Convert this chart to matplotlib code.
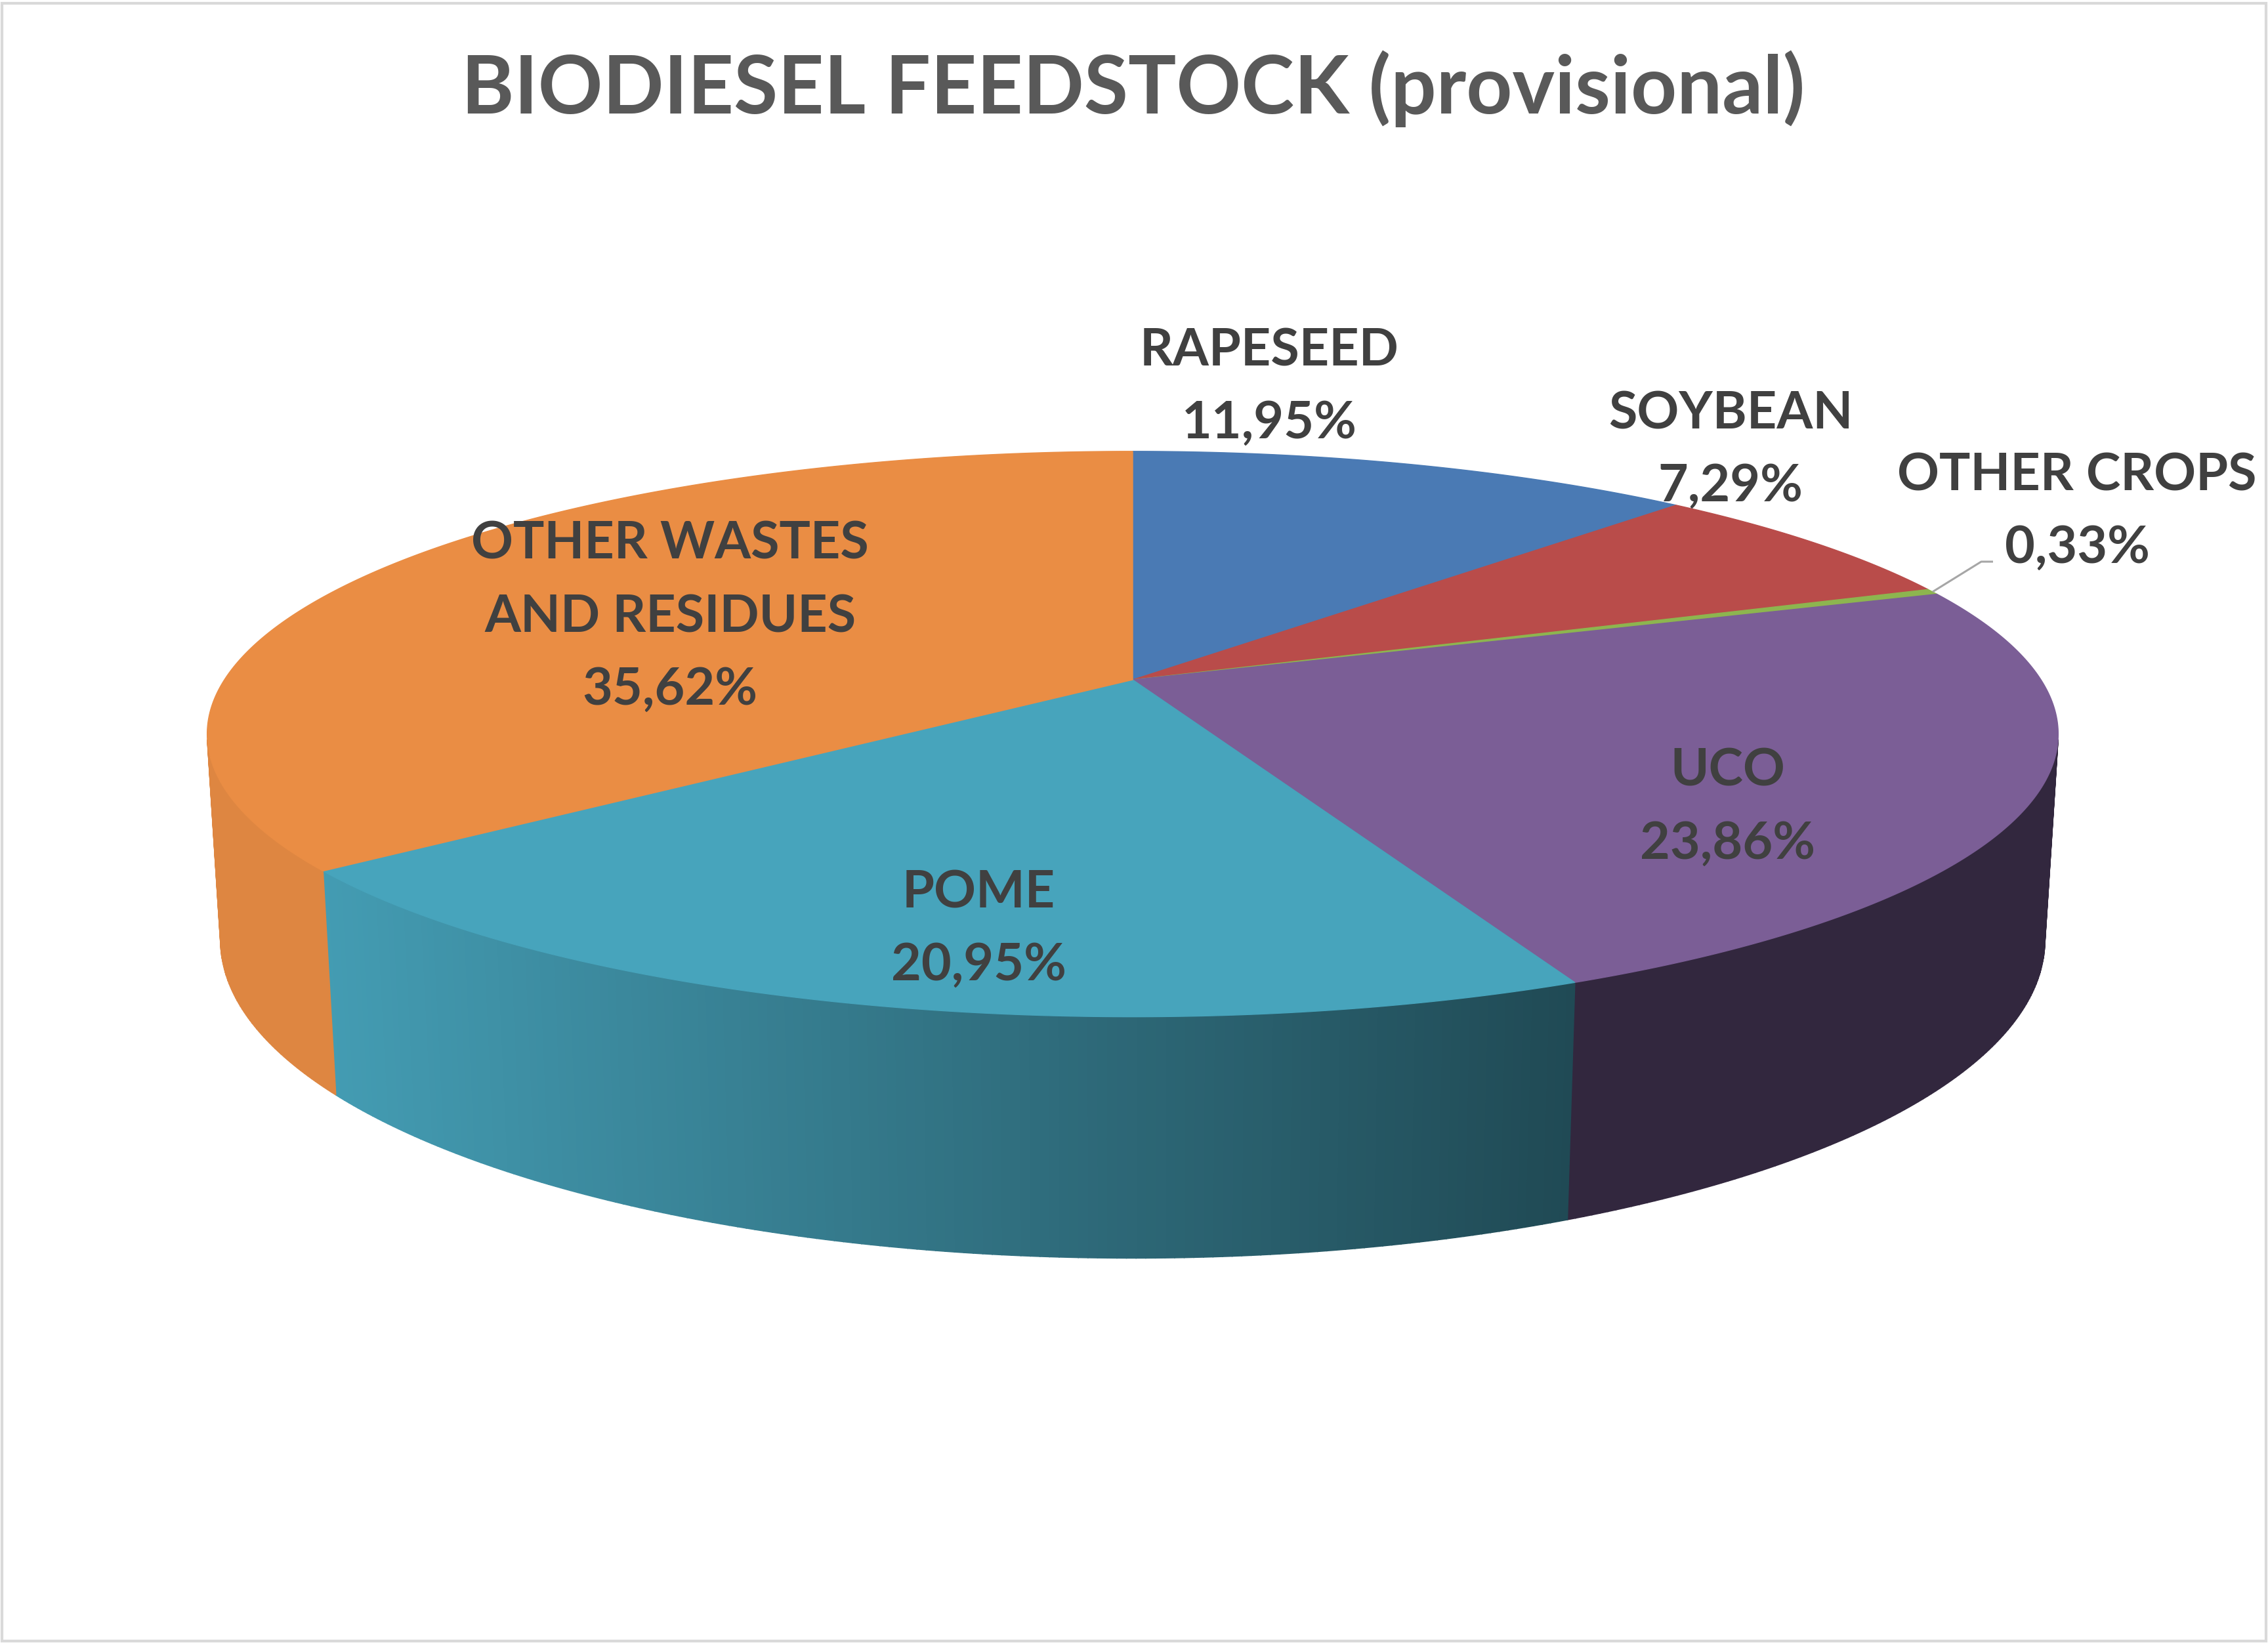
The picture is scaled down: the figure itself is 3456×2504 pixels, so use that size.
import numpy as np
import matplotlib.pyplot as plt
from matplotlib.patches import Polygon, Rectangle

# data
labels = ['RAPESEED', 'SOYBEAN', 'OTHER CROPS', 'UCO', 'POME', 'OTHER WASTES\nAND RESIDUES']
shares = [11.95, 7.29, 0.33, 23.86, 20.95, 35.62]

top_colors = ['#4A7AB4', '#B94C4A', '#8DB54F', '#7B5E96', '#47A4BC', '#EA8D44']
# wall brightness at right end / left end of each visible wall
wall_shade = [(1.0, 1.0), (1.0, 1.0), (1.0, 1.0), (0.41, 0.41), (0.45, 0.95), (0.95, 0.95)]

# label anchor: centre x, first baseline (px)
label_pos = [(1934, 557), (2637, 653), (3165, 747), (2633, 1198), (1491, 1383), (1021, 852)]
LINE_STEP = 111

# 3d pie geometry (perspective camera)
ELEV = np.radians(17.45)
DIST = 4.97
HEIGHT = 0.2345
FOC = 6879
CX, CY = 1726, 1036
ce, se = np.cos(ELEV), np.sin(ELEV)


def project(x, y, z):
    dp = DIST + y * ce - z * se
    sx = FOC * x / dp
    sy = FOC * (y * se + z * ce) / dp
    return CX + sx, CY - sy


def rim(t, z):
    # t: angle clockwise from the back (degrees)
    r = np.radians(t)
    return project(np.sin(r), np.cos(r), z)


def shade(color, k):
    c = np.array(plt.matplotlib.colors.to_rgb(color))
    return tuple(np.clip(c * k, 0, 1))


fig = plt.figure(figsize=(34.56, 25.04), dpi=100)
ax = fig.add_axes([0, 0, 1, 1])
ax.set_xlim(0, 3456)
ax.set_ylim(2504, 0)
ax.axis('off')

bounds = np.concatenate([[0], np.cumsum(shares)]) / sum(shares) * 360
# visible wall range (wall faces the camera)
vis = np.degrees(np.arccos(-1 / (DIST * ce)))
vis_lo, vis_hi = vis, 360 - vis

# walls
for i, col in enumerate(top_colors):
    a0, a1 = max(bounds[i], vis_lo), min(bounds[i + 1], vis_hi)
    if a1 <= a0:
        continue
    ts = np.linspace(a0, a1, int((a1 - a0) * 2) + 2)
    xr = rim(a0, 0)[0]
    xl = rim(a1, 0)[0]
    kr, kl = wall_shade[i]
    for t0, t1 in zip(ts[:-1], ts[1:]):
        tt = np.linspace(t0, t1, 4)
        xt, yt = rim(tt, 0)
        xb, yb = rim(tt[::-1], -HEIGHT)
        xm = rim((t0 + t1) / 2, 0)[0]
        k = kr + (kl - kr) * (xr - xm) / (xr - xl)
        c = shade(col, k)
        ax.add_patch(Polygon(np.column_stack([np.r_[xt, xb], np.r_[yt, yb]]),
                             closed=True, fc=c, ec=c, lw=1.2))

# top faces
for i, col in enumerate(top_colors):
    tt = np.linspace(bounds[i], bounds[i + 1], max(int((bounds[i + 1] - bounds[i]) * 2), 2) + 1)
    xt, yt = rim(tt, 0)
    ax0, ay0 = project(0, 0, 0)
    ax.add_patch(Polygon(np.column_stack([np.r_[ax0, xt], np.r_[ay0, yt]]),
                         closed=True, fc=col, ec=col, lw=1.0))

# leader line for the thin slice
mid = (bounds[2] + bounds[3]) / 2
lx, ly = rim(mid, 0)
ax.plot([lx, 3019, 3037], [ly, 856, 856], color='#A6A6A6', lw=2.2, solid_capstyle='butt')

# labels
font = dict(family=['Lato', 'DejaVu Sans'], fontweight='bold', color='#404040', fontsize=57)
for name, v, (x, y) in zip(labels, shares, label_pos):
    lines = name.split('\n') + [f'{v:.2f}'.replace('.', ',') + '%']
    for j, s in enumerate(lines):
        ax.text(x, y + j * LINE_STEP, s, ha='center', va='baseline', **font)

ax.text(1727, 173, 'BIODIESEL FEEDSTOCK (provisional)', ha='center', va='baseline',
        family=['Lato', 'DejaVu Sans'], fontweight='bold', color='#595959', fontsize=88)

fig.add_artist(Rectangle((0.001, 0.001), 0.998, 0.997, transform=fig.transFigure,
                         fill=False, ec='#D9D9D9', lw=3))

fig.savefig('out.png', dpi=100, facecolor='white')
